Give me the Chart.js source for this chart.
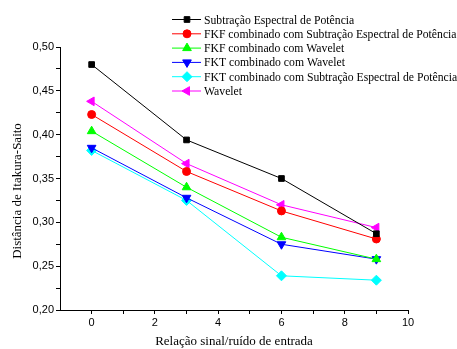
<!DOCTYPE html>
<html>
<head>
<meta charset="utf-8">
<script src="https://cdn.jsdelivr.net/npm/chart.js@4/dist/chart.umd.min.js"></script>
<style>
  html, body { margin: 0; padding: 0; background: #fff; }
  #wrap { width: 457px; height: 349px; }
</style>
</head>
<body>
<div id="wrap"><canvas id="chart" width="457" height="349"></canvas></div>
<script>
// dados
const snrIn = [0, 3, 6, 9];
const seriesNames = [
  'Subtração Espectral de Potência',
  'FKF combinado com Subtração Espectral de Potência',
  'FKF combinado com Wavelet',
  'FKT combinado com Wavelet',
  'FKT combinado com Subtração Espectral de Potência',
  'Wavelet'
];
const sepValues     = [0.480, 0.394, 0.350, 0.287];
const fkfSepValues  = [0.423, 0.358, 0.313, 0.281];
const fkfWavValues  = [0.404, 0.340, 0.283, 0.258];
const fktWavValues  = [0.385, 0.328, 0.275, 0.258];
const fktSepValues  = [0.382, 0.325, 0.239, 0.234];
const waveletValues = [0.438, 0.367, 0.320, 0.294];
const xTicks = [0, 2, 4, 6, 8, 10];
const yTicks = [0.20, 0.25, 0.30, 0.35, 0.40, 0.45, 0.50];
const xTitle = 'Relação sinal/ruído de entrada';
const yTitle = 'Distância de Itakura-Saito';

const allValues = [sepValues, fkfSepValues, fkfWavValues, fktWavValues, fktSepValues, waveletValues];
const colors = ['#000000', '#ff0000', '#00ff00', '#0000ff', '#00ffff', '#ff00ff'];
const styles = [
  { pointStyle: 'rect', rotation: 0, radius: 4 },
  { pointStyle: 'circle', rotation: 0, radius: 4 },
  { pointStyle: 'triangle', rotation: 0, radius: 5 },
  { pointStyle: 'triangle', rotation: 180, radius: 5 },
  { pointStyle: 'rectRot', rotation: 0, radius: 5 },
  { pointStyle: 'triangle', rotation: -90, radius: 5 }
];

const datasets = allValues.map((vals, i) => ({
  label: seriesNames[i],
  data: vals.map((v, j) => ({ x: snrIn[j], y: v })),
  borderColor: colors[i],
  backgroundColor: colors[i],
  borderWidth: 1,
  pointStyle: styles[i].pointStyle,
  pointRotation: styles[i].rotation,
  pointRadius: styles[i].radius,
  pointBorderWidth: 1,
  tension: 0
}));

const serif = '"Liberation Serif", "Times New Roman", serif';

// legenda e título do eixo y desenhados à mão, nas posições do original
const extrasPlugin = {
  id: 'extras',
  afterDraw(chart) {
    const ctx = chart.ctx;
    ctx.save();
    ctx.font = '11.7px ' + serif;
    ctx.textBaseline = 'middle';
    chart.data.datasets.forEach((ds, i) => {
      const y = 19.5 + i * 14.3;
      ctx.strokeStyle = ds.borderColor;
      ctx.lineWidth = 1;
      ctx.beginPath();
      ctx.moveTo(172, y);
      ctx.lineTo(201, y);
      ctx.stroke();
      ctx.fillStyle = ds.backgroundColor;
      Chart.helpers.drawPoint(ctx, {
        pointStyle: ds.pointStyle,
        rotation: ds.pointRotation,
        radius: ds.pointRadius,
        borderWidth: 1
      }, 187, y);
      ctx.fillStyle = '#000';
      ctx.fillText(ds.label, 204, y + 1);
    });

    ctx.font = '13px ' + serif;
    ctx.textAlign = 'center';
    ctx.translate(18, 191);
    ctx.rotate(-Math.PI / 2);
    ctx.fillText(yTitle, 0, 0);
    ctx.restore();
  }
};

const tickFont = { family: '"Liberation Sans", Arial, sans-serif', size: 11 };

new Chart(document.getElementById('chart'), {
  type: 'line',
  data: { datasets },
  plugins: [extrasPlugin],
  options: {
    responsive: false,
    animation: false,
    layout: { padding: { left: 0, top: 47, right: 49, bottom: 0 } },
    plugins: { legend: { display: false }, tooltip: { enabled: false } },
    scales: {
      x: {
        type: 'linear',
        min: -1,
        max: 10,
        afterFit: s => { s.height = 39; },
        afterBuildTicks: s => {
          s.ticks = [];
          for (let v = 0; v <= 10; v++) s.ticks.push({ value: v });
        },
        border: { display: true, color: '#000', width: 1 },
        grid: { drawOnChartArea: false, tickLength: 4, color: '#000' },
        ticks: {
          font: tickFont, color: '#000', padding: 2, maxRotation: 0, autoSkip: false,
          callback: v => xTicks.includes(v) ? String(v) : ''
        },
        title: { display: true, text: xTitle, font: { family: serif, size: 13 }, color: '#000', padding: { top: 6, bottom: 0 } }
      },
      y: {
        type: 'linear',
        min: 0.20,
        max: 0.50,
        afterFit: s => { s.width = 60; },
        afterBuildTicks: s => {
          s.ticks = [];
          for (let k = 0; k <= 12; k++) s.ticks.push({ value: +(0.20 + k * 0.025).toFixed(3) });
        },
        border: { display: true, color: '#000', width: 1 },
        grid: { drawOnChartArea: false, tickLength: 4, color: '#000' },
        ticks: {
          font: tickFont, color: '#000', padding: 2, autoSkip: false,
          callback: v => yTicks.some(t => Math.abs(t - v) < 1e-6) ? v.toFixed(2).replace('.', ',') : ''
        },
        title: { display: false }
      }
    }
  }
});
</script>
</body>
</html>
